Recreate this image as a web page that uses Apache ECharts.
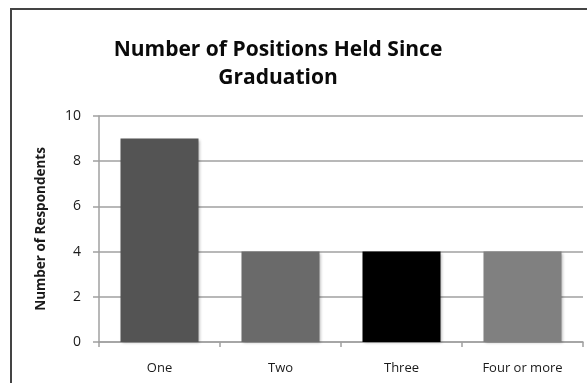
<!DOCTYPE html>
<html>
<head>
<meta charset="utf-8">
<script src="https://cdn.jsdelivr.net/npm/echarts@6/dist/echarts.min.js"></script>
<style>
  html, body { margin: 0; padding: 0; background: #fff; }
  #frame { position: absolute; left: 10px; top: 8px; width: 590px; height: 390px; border: 2px solid #444; box-sizing: border-box; }
  #chart { position: absolute; left: 0; top: 0; width: 587px; height: 383px; }
</style>
</head>
<body>
<div id="frame"></div>
<div id="chart"></div>
<script>
const titleText = 'Number of Positions Held Since\nGraduation';
const yAxisTitle = 'Number of Respondents';
const categories = ['One', 'Two', 'Three', 'Four or more'];
const respondents = [9, 4, 4, 4];
const barColors = ['#545454', '#6a6a6a', '#000000', '#808080'];
const yTicks = [0, 2, 4, 6, 8, 10];

const chart = echarts.init(document.getElementById('chart'), null, { renderer: 'canvas' });
chart.setOption({
  animation: false,
  title: {
    text: titleText,
    left: 273,
    textAlign: 'center',
    top: 31,
    textStyle: { fontFamily: 'Open Sans', fontWeight: 'bold', fontSize: 21, lineHeight: 28, color: '#0a0a0a' }
  },
  grid: { left: 99, right: 4, top: 116, bottom: 41 },
  xAxis: {
    type: 'category',
    data: categories,
    axisLine: { lineStyle: { color: '#a0a0a0', width: 1.5 } },
    axisTick: { show: true, length: 5, lineStyle: { color: '#a0a0a0', width: 1.5 } },
    axisLabel: { margin: 20, fontFamily: 'Open Sans', fontSize: 13, color: '#1a1a1a' }
  },
  yAxis: {
    type: 'value',
    min: yTicks[0],
    max: yTicks[yTicks.length - 1],
    interval: 2,
    name: yAxisTitle,
    nameLocation: 'middle',
    nameGap: 51,
    nameTextStyle: { fontFamily: 'Open Sans', fontWeight: 'bold', fontSize: 13.5, color: '#1a1a1a' },
    axisLine: { show: true, lineStyle: { color: '#a0a0a0', width: 1.5 } },
    axisTick: { show: true, length: 6, lineStyle: { color: '#a0a0a0', width: 1.5 } },
    axisLabel: { margin: 18, fontFamily: 'Open Sans', fontSize: 14, color: '#1a1a1a' },
    splitLine: { lineStyle: { color: '#a0a0a0', width: 1.5 } }
  },
  series: [{
    type: 'bar',
    data: respondents.map((v, i) => ({ value: v, itemStyle: { color: barColors[i] } })),
    barWidth: 78,
    itemStyle: { shadowColor: 'rgba(0,0,0,0.3)', shadowBlur: 3, shadowOffsetX: 1, shadowOffsetY: 1 }
  }]
});
</script>
</body>
</html>
